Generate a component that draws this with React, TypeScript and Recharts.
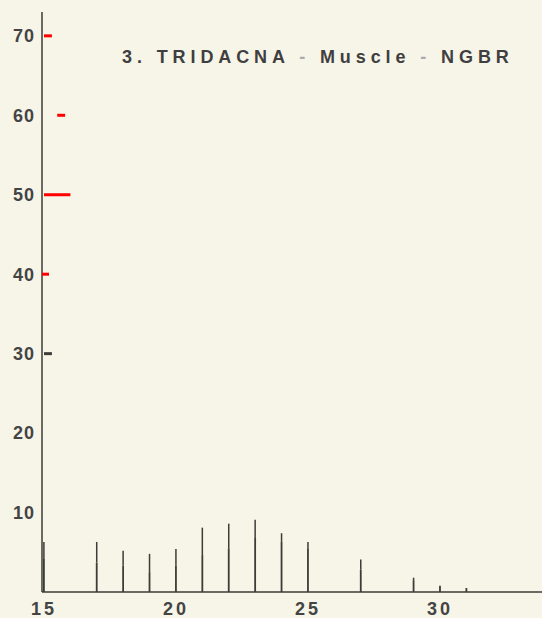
import React from "react";
import { ComposedChart, Bar, ErrorBar, XAxis, YAxis, ReferenceLine, Scatter } from "recharts";

// shell length classes (x) and mean values with upper error
const lengths = [15, 17, 18, 19, 20, 21, 22, 23, 24, 25, 27, 29, 30, 31];
const means = [4.15, 3.7, 3.3, 2.5, 3.3, 4.65, 5.5, 6.8, 6.3, 5.5, 2.8, 1.5, 0.8, 0.5];
const upperBounds = [6.3, 6.3, 5.2, 4.8, 5.4, 8.1, 8.6, 9.1, 7.4, 6.3, 4.1, 1.8, 0.8, 0.5];
const xTicks = [15, 20, 25, 30];
const yTicks = [10, 20, 30, 40, 50, 60, 70];

const xDomain = [14.924, 33.86];

const data = lengths.map((x, i) => ({
  x,
  mean: means[i],
  err: [0, Math.max(0, upperBounds[i] - means[i])],
}));

const tickMarks = [{ x: xDomain[0], y: 40 }];

const ink = "#3b3d37";
const paper = "#f7f4e8";
const font = "'Liberation Sans', Arial, sans-serif";

const TickShape = (props: any) => {
  const { cx, cy } = props;
  return <line x1={cx} x2={cx + 7} y1={cy} y2={cy} stroke="red" strokeWidth={3} />;
};

export default function App() {
  return (
    <div
      style={{
        position: "fixed",
        left: 0,
        top: 0,
        width: 542,
        height: 618,
        background: paper,
        overflow: "hidden",
      }}
    >
      <ComposedChart
        width={542}
        height={618}
        data={data}
        margin={{ top: 12, right: 0, bottom: 0, left: 0 }}
      >
        <XAxis
          dataKey="x"
          type="number"
          domain={xDomain}
          ticks={xTicks}
          tickLine={false}
          axisLine={{ stroke: ink, strokeWidth: 1.5 }}
          height={26}
          tickMargin={4}
          tick={{ fill: "#444", fontSize: 18, fontWeight: "bold", fontFamily: font, letterSpacing: 3 }}
        />
        <YAxis
          type="number"
          domain={[0, 73]}
          ticks={yTicks}
          allowDataOverflow
          width={42}
          tickSize={0}
          tickMargin={7}
          tickLine={false}
          axisLine={{ stroke: ink, strokeWidth: 1.5 }}
          tick={{ fill: "#444", fontSize: 18, fontWeight: "bold", fontFamily: font, letterSpacing: 1 }}
        />
        <ReferenceLine segment={[{ x: 15, y: 70 }, { x: 15.3, y: 70 }]} stroke="red" strokeWidth={3} ifOverflow="visible" />
        <ReferenceLine segment={[{ x: 15.5, y: 60 }, { x: 15.8, y: 60 }]} stroke="red" strokeWidth={3} ifOverflow="visible" />
        <ReferenceLine segment={[{ x: 15, y: 50 }, { x: 16, y: 50 }]} stroke="red" strokeWidth={3} ifOverflow="visible" />
        <ReferenceLine segment={[{ x: 15, y: 30 }, { x: 15.3, y: 30 }]} stroke={ink} strokeWidth={3} ifOverflow="visible" />
        <Bar dataKey="mean" fill={ink} barSize={9} isAnimationActive={false}>
          <ErrorBar dataKey="err" width={0} stroke={ink} strokeWidth={1.5} direction="y" />
        </Bar>
        <Scatter data={tickMarks} dataKey="y" shape={<TickShape />} isAnimationActive={false} />
        <text
          x={122}
          y={63}
          fontFamily={font}
          fontSize={18}
          fontWeight="bold"
          fill="#3f3f3f"
          letterSpacing={4.9}
        >
          3. TRIDACNA <tspan fill="#aaa">-</tspan> Muscle <tspan fill="#aaa">-</tspan> NGBR
        </text>
      </ComposedChart>
    </div>
  );
}
